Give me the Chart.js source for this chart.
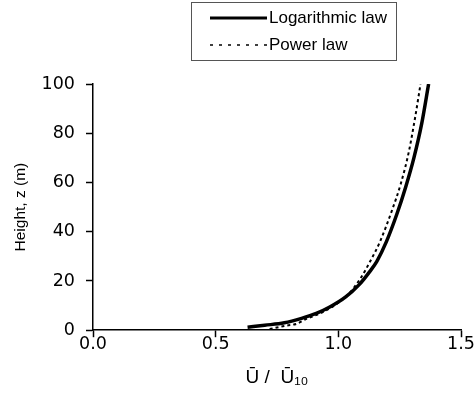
<!DOCTYPE html>
<html>
<head>
<meta charset="utf-8">
<script src="https://cdn.jsdelivr.net/npm/chart.js@4/dist/chart.umd.min.js"></script>
<style>
  body { margin: 0; background: #fff; }
  #wrap { position: relative; width: 476px; height: 394px; }
  #legend {
    position: absolute; left: 191px; top: 2px; width: 206px; height: 59px;
    border: 1px solid #555; box-sizing: border-box;
    font-family: "Liberation Sans", Arial, sans-serif; font-size: 17px; color: #000;
  }
  .item { position: absolute; left: 18px; height: 20px; display: flex; align-items: center; }
  .item span { margin-left: 2px; }
</style>
</head>
<body>
<div id="wrap">
  <canvas id="myChart"></canvas>
  <div id="legend"></div>
</div>
<script>
// values: U/U10 against height z (m)
const logU = [0.63, 0.70, 0.78, 0.85, 0.91, 0.965, 1.03, 1.083, 1.128, 1.157, 1.196, 1.238, 1.274, 1.308, 1.34, 1.368];
const logZ = [1.2, 2, 3, 4.8, 6.8, 9.4, 13.5, 18.3, 23.8, 28, 36, 47, 58, 70, 84, 100];

const powU = [0.72, 0.79, 0.83, 0.87, 0.93, 0.98, 1.04, 1.09, 1.13, 1.17, 1.218, 1.254, 1.287, 1.314, 1.335];
const powZ = [0.5, 1.9, 2.6, 4.6, 7, 9.8, 14.5, 21, 28, 36, 48.5, 59.3, 72.3, 87, 100];

const seriesNames = ['Logarithmic law', 'Power law'];
const xTicks = [0, 0.5, 1.0, 1.5];
const yTicks = [0, 20, 40, 60, 80, 100];

const toPoints = (xs, ys) => xs.map((x, i) => ({ x: x, y: ys[i] }));

const chartData = {
  datasets: [{
    label: seriesNames[0],
    data: toPoints(logU, logZ),
    borderColor: '#000',
    borderWidth: 3.5,
    pointRadius: 0,
    showLine: true,
    cubicInterpolationMode: 'monotone'
  }, {
    label: seriesNames[1],
    data: toPoints(powU, powZ),
    borderColor: '#000',
    borderWidth: 2,
    borderDash: [3, 3],
    pointRadius: 0,
    showLine: true,
    cubicInterpolationMode: 'monotone'
  }]
};

// legend drawn as html, boxed like the original
const htmlLegend = {
  id: 'htmlLegend',
  afterUpdate(chart) {
    const box = document.getElementById('legend');
    box.innerHTML = '';
    chart.data.datasets.forEach((ds, i) => {
      const row = document.createElement('div');
      row.className = 'item';
      row.style.top = (5 + i * 27) + 'px';
      row.innerHTML =
        '<svg width="57" height="8"><line x1="0" y1="4" x2="57" y2="4" stroke="#000" stroke-width="' +
        (ds.borderWidth - 0.5) + '" stroke-dasharray="' + (ds.borderDash ? '3 6' : 'none') + '"/></svg>' +
        '<span>' + ds.label + '</span>';
      box.appendChild(row);
    });
  }
};

const tickFont = { family: 'DejaVu Sans', size: 17.5 };

const chartOptions = {
  responsive: true,
  maintainAspectRatio: false,
  animation: false,
  layout: { padding: { left: 7, top: 84, right: 15, bottom: 5 } },
  plugins: { legend: { display: false }, tooltip: { enabled: false } },
  scales: {
    x: {
      type: 'linear',
      min: 0, max: 1.5,
      afterBuildTicks: (axis) => { axis.ticks = xTicks.map(v => ({ value: v })); },
      ticks: { color: '#000', font: tickFont, padding: -3, callback: (v) => v.toFixed(1) },
      grid: { drawOnChartArea: false, tickLength: 7, tickWidth: 1.5, tickColor: '#000' },
      border: { color: '#000', width: 1.5 },
      title: {
        display: true, text: 'Ū /  Ū₁₀', color: '#000',
        font: { family: 'Liberation Sans', size: 19 }, padding: { top: 14, bottom: 0 }
      }
    },
    y: {
      type: 'linear',
      min: 0, max: 100,
      afterBuildTicks: (axis) => { axis.ticks = yTicks.map(v => ({ value: v })); },
      ticks: { color: '#000', font: tickFont, padding: 11 },
      grid: { drawOnChartArea: false, tickLength: 7, tickWidth: 1.5, tickColor: '#000' },
      border: { color: '#000', width: 1.5 },
      title: {
        display: true, text: 'Height, z (m)', color: '#000',
        font: { family: 'Liberation Sans', size: 15.5 }, padding: { top: 4, bottom: 1 }
      }
    }
  }
};

const chart = new Chart('myChart', {
  type: 'scatter',
  data: chartData,
  options: chartOptions,
  plugins: [htmlLegend]
});
</script>
</body>
</html>
